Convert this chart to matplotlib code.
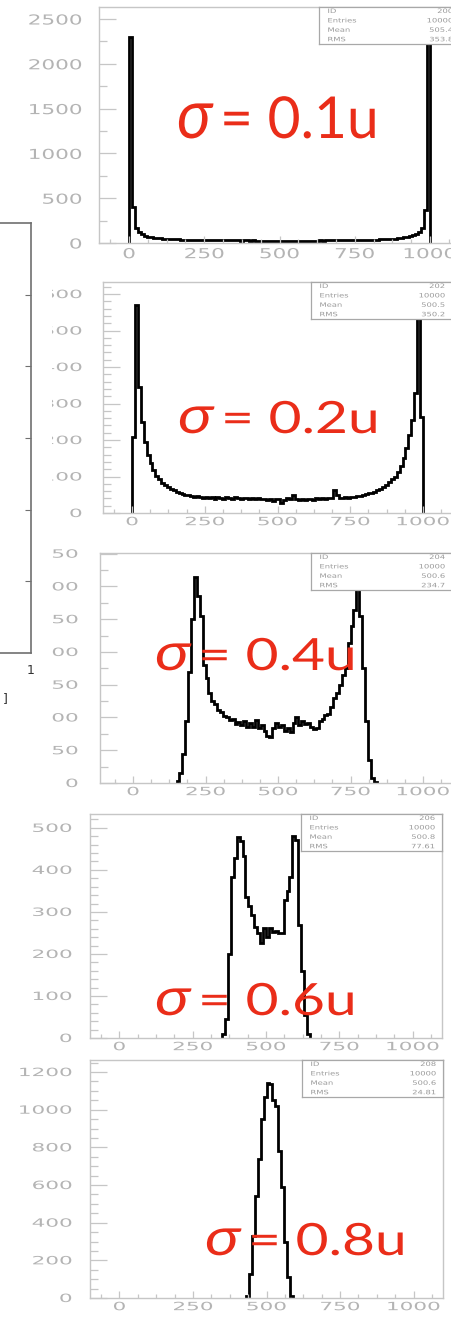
import matplotlib
matplotlib.use('Agg')
import matplotlib.pyplot as plt
import matplotlib.patheffects as pe
from matplotlib.patches import Rectangle
from matplotlib.transforms import Affine2D
from matplotlib.ticker import MultipleLocator
import numpy as np

W, H = 451, 1319

# ---- histogram contents (10-unit bins) ----
bin_width = 10

start_01 = 0
counts_01 = [2300, 400, 165, 118, 96, 82, 72, 66, 60, 55,
             52, 49, 47, 45, 43, 41, 40, 38, 37, 36,
             35, 34, 34, 33, 32, 33, 31, 31, 30, 31,
             30, 29, 30, 28, 29, 28, 29, 27, 28, 28,
             27, 28, 26, 27, 27, 26, 27, 26, 25, 27,
             26, 25, 27, 26, 26, 25, 27, 26, 27, 26,
             27, 26, 27, 28, 27, 28, 28, 29, 28, 29,
             30, 29, 31, 30, 31, 32, 32, 33, 34, 35,
             36, 37, 38, 40, 41, 43, 45, 47, 50, 53,
             57, 62, 68, 75, 85, 98, 118, 165, 370, 2390]

start_02 = 0
counts_02 = [208, 570, 345, 250, 195, 160, 138, 118, 102, 92,
             82, 76, 71, 66, 62, 58, 55, 53, 50, 48,
             47, 45, 46, 44, 42, 45, 40, 43, 38, 44,
             41, 39, 43, 40, 38, 44, 41, 39, 42, 40,
             39, 41, 38, 40, 37, 39, 36, 38, 33, 37,
             38, 28, 36, 40, 37, 48, 39, 36, 38, 35,
             37, 39, 36, 40, 38, 41, 39, 42, 40, 62,
             48, 42, 40, 44, 42, 45, 44, 47, 46, 50,
             52, 55, 54, 58, 62, 66, 71, 76, 84, 92,
             100, 112, 128, 150, 178, 215, 255, 330, 570, 262]

start_04 = 150
counts_04 = [3, 15, 45, 95, 170, 250, 315, 285, 255, 180,
             160, 137, 125, 120, 112, 108, 102, 100, 96, 98,
             90, 93, 88, 94, 85, 92, 86, 96, 84, 88,
             80, 72, 70, 84, 92, 86, 88, 80, 84, 78,
             92, 100, 88, 94, 90, 92, 86, 82, 84, 94,
             98, 104, 106, 116, 130, 138, 150, 165, 175, 213,
             240, 264, 300, 255, 175, 95, 35, 8, 2]

start_06 = 350
counts_06 = [10, 45, 200, 384, 428, 478, 468, 432, 336, 313,
             293, 265, 250, 225, 262, 240, 262, 253, 255, 249,
             250, 328, 349, 384, 480, 470, 270, 160, 55, 10]

start_08 = 430
counts_08 = [10, 130, 330, 540, 740, 950, 1070, 1140, 1135, 1050,
             1020, 780, 590, 300, 110, 8]

sigma_values = ['0.1u', '0.2u', '0.4u', '0.6u', '0.8u']
hist_ids = ['200', '202', '204', '206', '208']
entries = ['10000', '10000', '10000', '10000', '10000']
means = ['505.4', '500.5', '500.6', '500.8', '500.6']
rms = ['353.8', '350.2', '234.7', '77.61', '24.81']

starts = [start_01, start_02, start_04, start_06, start_08]
counts = [counts_01, counts_02, counts_04, counts_06, counts_08]

# ---- layout (pixels) ----
rects = [(99, 7, 460, 243), (103, 282, 452, 513), (100, 553, 452, 783),
         (90, 814, 442, 1038), (90, 1060, 443, 1298)]
xlows = [-100, -100, -114, -100, -100]
ytops = [2634, 633, 351, 533, 1264]
ymajor = [500, 100, 50, 100, 200]
yminor = [250, 20, 25, 20, 50]
lab_fs = [9.9, 8.2, 8.2, 8.2, 8.2]
ypads = [12.2, 15.1, 15.8, 13, 13]
label_pos = [(177, 138), (178, 433), (155, 670), (155, 1015), (205, 1255)]
label_sy = [1.3, 1, 1, 1, 1]

FRAME = '#c6c6c6'
TICKLAB = '#b4b4b4'
RED = '#ea2d19'


class Stretch(pe.AbstractPathEffect):
    """Scale a text path horizontally/vertically about an anchor."""
    def __init__(self, sx=1.0, sy=1.0, anchor='left'):
        super().__init__()
        self.sx, self.sy, self.anchor = sx, sy, anchor

    def draw_path(self, renderer, gc, tpath, affine, rgbFace=None):
        ext = tpath.get_extents()
        if self.anchor == 'right':
            cx = ext.x1
        elif self.anchor == 'center':
            cx = 0.5 * (ext.x0 + ext.x1)
        else:
            cx = 0.0
        st = Affine2D().translate(-cx, 0).scale(self.sx, self.sy).translate(cx, 0)
        renderer.draw_path(gc, tpath, st + affine, rgbFace)


def px_axes(fig, l, t, r, b):
    return fig.add_axes([l / W, 1 - b / H, (r - l) / W, (b - t) / H])


fig = plt.figure(figsize=(W / 100, H / 100), dpi=100)

for i in range(5):
    l, t, r, b = rects[i]
    ax = px_axes(fig, l, t, r, b)
    ax.set_zorder(2 if i == 4 else 0)
    edges = starts[i] + bin_width * np.arange(len(counts[i]) + 1)
    ax.stairs(counts[i], edges, color='black', lw=2.0)
    ax.set_xlim(xlows[i], 1100)
    ax.set_ylim(0, ytops[i])
    ax.set_xticks([0, 250, 500, 750, 1000])
    ax.set_yticks(np.arange(0, ytops[i] + 1, ymajor[i]))
    ax.xaxis.set_minor_locator(MultipleLocator(62.5))
    ax.yaxis.set_minor_locator(MultipleLocator(yminor[i]))
    for s in ax.spines.values():
        s.set_color(FRAME)
        s.set_linewidth(1.0)
    ax.tick_params(which='both', direction='in', color=FRAME,
                   labelcolor=TICKLAB, labelsize=lab_fs[i], width=0.9)
    ax.tick_params(axis='y', which='major', length=12, pad=ypads[i])
    ax.tick_params(axis='y', which='minor', length=6)
    ax.tick_params(axis='x', which='major', length=5, pad=3)
    ax.tick_params(axis='x', which='minor', length=3)
    sx = 13.7 / (0.636 * lab_fs[i] * 100 / 72)
    for lab in ax.get_xticklabels():
        lab.set_path_effects([Stretch(sx, 1, 'center')])
    for lab in ax.get_yticklabels():
        lab.set_path_effects([Stretch(sx, 1, 'right')])

    # statistics box in the top right corner
    aw, ah = r - l, b - t
    bx = ax.inset_axes([1 - 141 / aw, 1 - 37 / ah, 141 / aw, 37 / ah])
    bx.set_xticks([])
    bx.set_yticks([])
    for s in bx.spines.values():
        s.set_color('#a8a8a8')
        s.set_linewidth(0.9)
    rows = [('ID', hist_ids[i]), ('Entries', entries[i]),
            ('Mean', means[i]), ('RMS', rms[i])]
    for k, (name, val) in enumerate(rows):
        yy = 0.88 - k * 0.255
        bx.text(0.06, yy, name, fontsize=4.3, color='#9a9a9a', va='center',
                transform=bx.transAxes,
                path_effects=[Stretch(1.4, 1, 'left')])
        bx.text(0.95, yy, val, fontsize=4.3, color='#9a9a9a', va='center',
                ha='right', transform=bx.transAxes,
                path_effects=[Stretch(1.4, 1, 'right')])

    # red sigma label
    x0, y0 = label_pos[i]
    fig.text(x0 / W, 1 - y0 / H, 'σ', fontsize=38, color=RED,
             family=['Lato', 'DejaVu Sans'], style='italic', ha='left',
             va='baseline', path_effects=[Stretch(1.2, label_sy[i], 'left')],
             zorder=5)
    fig.text((x0 + 43) / W, 1 - y0 / H, '= ' + sigma_values[i], fontsize=32,
             color=RED, family='Lato', ha='left',
             va='baseline', path_effects=[Stretch(1.28, label_sy[i], 'left')],
             zorder=5)

# pieces of the neighbouring screenshots that overlap the panels
fig.patches.append(Rectangle((0, 1 - 800 / H), 52 / W, 585 / H,
                             transform=fig.transFigure, facecolor='white',
                             edgecolor='none', zorder=1))
fig.patches.append(Rectangle((0, 0), 1, 1 - 1051 / H,
                             transform=fig.transFigure, facecolor='white',
                             edgecolor='none', zorder=1))

axl = px_axes(fig, -200, 223, 31, 653)
axl.set_zorder(2)
axl.set_xlim(0, 1)
axl.set_ylim(0, 6)
axl.spines['left'].set_visible(False)
for s in ['top', 'right', 'bottom']:
    axl.spines[s].set_color('#707070')
    axl.spines[s].set_linewidth(1.2)
axl.yaxis.tick_right()
axl.set_yticks([1, 2, 3, 4, 5])
axl.set_yticklabels([])
axl.tick_params(axis='y', direction='in', length=4, color='#707070')
axl.set_xticks([1])
axl.tick_params(axis='x', direction='in', length=0, pad=8, labelsize=9,
                labelcolor='#333333')
fig.text(5 / W, 1 - 699 / H, ']', fontsize=9, color='#333333',
         ha='center', va='center', zorder=5)

fig.savefig('out.png', dpi=100)
